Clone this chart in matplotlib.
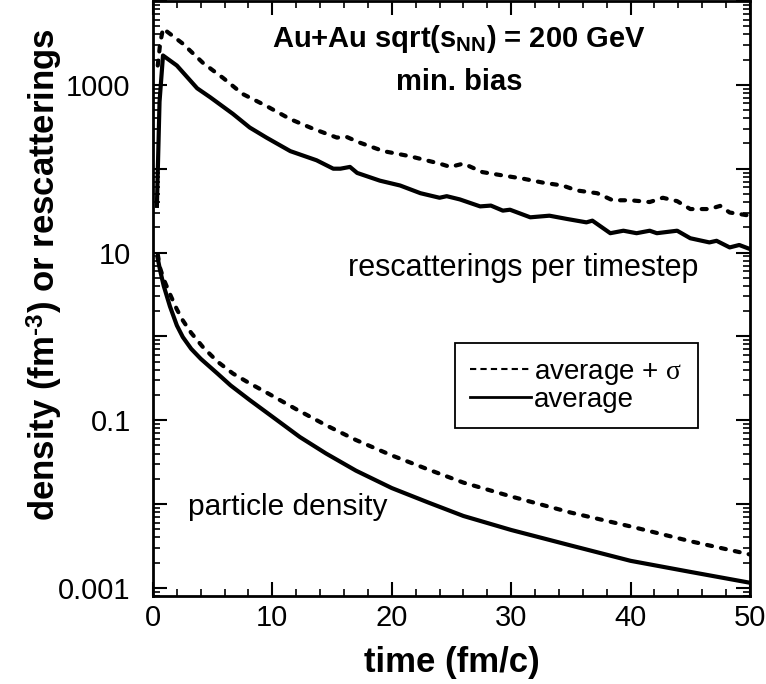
import matplotlib
matplotlib.use("Agg")
import matplotlib.pyplot as plt
from matplotlib.lines import Line2D
from matplotlib.ticker import FuncFormatter, LogLocator, MultipleLocator

plt.rcParams["font.family"] = ["Liberation Sans", "DejaVu Sans"]
plt.rcParams["mathtext.fontset"] = "custom"
plt.rcParams["mathtext.rm"] = "Liberation Serif"
plt.rcParams["mathtext.it"] = "Liberation Serif:italic"
plt.rcParams["mathtext.bf"] = "Liberation Sans:bold"
plt.rcParams["mathtext.sf"] = "Liberation Sans"

# rescatterings per timestep, average (solid)
resc_avg_t = [0.33, 0.55, 0.84, 2.0, 3.7, 4.8, 6.7, 8.1, 9.5, 11.5, 13.7, 15.1,
              15.7, 16.5, 17.1, 19.0, 20.7, 22.4, 24.0, 24.6, 25.7, 27.4, 28.3,
              29.3, 29.9, 31.6, 33.2, 34.7, 36.3, 36.8, 38.3, 39.4, 40.5, 41.6,
              42.2, 43.9, 45.0, 46.6, 47.2, 48.3, 49.1, 50.0]
resc_avg = [36, 630, 2240, 1700, 910, 710, 450, 310, 235, 162, 126, 100,
            100, 105, 89, 72, 63, 51, 45, 47, 43, 35.5, 36.3,
            31.6, 32.4, 26.3, 27.5, 25.1, 22.9, 24.0, 17.0, 18.2, 17.0, 18.2,
            17.0, 18.2, 14.8, 13.2, 13.8, 11.5, 12.3, 11.0]

# rescatterings per timestep, average + sigma (dashed)
resc_sig_t = [0.4, 0.6, 0.84, 2.5, 4.2, 5.9, 7.5, 9.5, 11.5, 13.4, 15.4, 16.2,
              17.3, 19.3, 21.5, 24.0, 24.9, 26.0, 27.6, 29.3, 31.0, 32.7, 34.3,
              35.5, 37.2, 38.5, 40.0, 41.6, 42.7, 43.9, 45.0, 46.6, 47.5, 48.3,
              50.0]
resc_sig = [1700, 3100, 4700, 3100, 1820, 1200, 780, 560, 390, 300, 235, 240,
            205, 162, 141, 115, 105, 115, 91, 83, 76, 68, 63,
            55, 51, 42, 42, 40, 45, 41, 33, 33, 36, 30,
            27.5]

# particle density, average (solid)
dens_avg_t = [0.4, 0.6, 0.9, 1.42, 2.0, 2.5, 3.2, 4.0, 5.4, 6.5, 8.1, 10.0,
              12.3, 14.5, 17.0, 20.0, 23.0, 26.0, 30.0, 35.0, 40.0, 45.0, 50.0]
dens_avg = [8.5, 6.1, 4.0, 2.28, 1.35, 0.98, 0.71, 0.54, 0.36, 0.26, 0.174,
            0.11, 0.063, 0.040, 0.025, 0.0155, 0.0105, 0.0072, 0.0049,
            0.0032, 0.0021, 0.00155, 0.00115]

# particle density, average + sigma (dashed)
dens_sig_t = [0.4, 0.6, 0.9, 1.42, 2.0, 2.5, 3.2, 4.2, 5.4, 6.7, 8.1, 9.5,
              12.0, 14.5, 17.0, 20.0, 23.0, 26.0, 30.0, 35.0, 40.0, 45.0, 50.0]
dens_sig = [9.5, 6.5, 4.8, 3.2, 2.1, 1.55, 1.1, 0.74, 0.50, 0.36, 0.275,
            0.214, 0.135, 0.087, 0.058, 0.038, 0.026, 0.018, 0.0123, 0.0079,
            0.0054, 0.0036, 0.0025]

y_labels = {1e-3: "0.001", 1e-1: "0.1", 1e1: "10", 1e3: "1000"}

fig = plt.figure(figsize=(7.66, 6.84), dpi=100)
ax = fig.add_axes([0.1997, 0.1287, 0.7794, 0.8698])

dash = (0, (1.2, 2.2))
ax.plot(resc_sig_t, resc_sig, color="k", lw=3, ls=dash, dash_capstyle="round")
ax.plot(resc_avg_t, resc_avg, color="k", lw=3, solid_joinstyle="round")
ax.plot(dens_sig_t, dens_sig, color="k", lw=3, ls=dash, dash_capstyle="round")
ax.plot(dens_avg_t, dens_avg, color="k", lw=3, solid_joinstyle="round")

ax.set_yscale("log")
ax.set_xlim(0, 50)
ax.set_ylim(8e-4, 1e4)

ax.xaxis.set_major_locator(MultipleLocator(10))
ax.xaxis.set_minor_locator(MultipleLocator(2))
ax.yaxis.set_major_locator(LogLocator(base=10, numticks=20))
ax.yaxis.set_minor_locator(LogLocator(base=10, subs=range(2, 10), numticks=20))
ax.yaxis.set_major_formatter(
    FuncFormatter(lambda v, pos: next((s for k, s in y_labels.items()
                                       if abs(v / k - 1) < 1e-6), "")))
ax.yaxis.set_minor_formatter(FuncFormatter(lambda v, pos: ""))

ax.tick_params(which="both", direction="in", top=True, right=True,
               labelsize=21)
ax.tick_params(which="major", length=10, width=1.5)
ax.tick_params(which="minor", length=5, width=1.2)
ax.tick_params(axis="x", pad=6)
ax.tick_params(axis="y", pad=16)
for sp in ax.spines.values():
    sp.set_linewidth(2)

ax.set_xlabel("time (fm/c)", fontsize=25, fontweight="bold")
ax.set_ylabel("density (fm$^{\\mathbf{\u2010 3}}$) or rescatterings",
              fontsize=25, fontweight="bold")
ax.xaxis.set_label_coords(0.5, -0.111)
ax.yaxis.set_label_coords(-0.181, 0.54)
ax.xaxis.label.set_va("center")
ax.yaxis.label.set_va("center")

ax.text(0.513, 0.936, "Au+Au sqrt(s$_{\\mathbf{NN}}$) = 200 GeV",
        transform=ax.transAxes, ha="center", va="center",
        fontsize=21, fontweight="bold")
ax.text(0.513, 0.864, "min. bias", transform=ax.transAxes,
        ha="center", va="center", fontsize=21, fontweight="bold")
ax.text(31.0, 6.5, "rescatterings per timestep", ha="center", va="center",
        fontsize=22)
ax.text(11.3, 0.0092, "particle density", ha="center", va="center",
        fontsize=21.5)

handles = [
    Line2D([], [], color="k", lw=1.5, ls=(0, (3, 2))),
    Line2D([], [], color="k", lw=2),
]
leg = ax.legend(handles, ["average + $\\mathrm{\\sigma}$", "average"],
                loc="upper left", bbox_to_anchor=(0.506, 0.4245),
                fontsize=20, frameon=True, fancybox=False, framealpha=1,
                edgecolor="k", handlelength=2.2, handletextpad=0.1,
                labelspacing=0.0, borderpad=0.55, borderaxespad=0)
leg.get_frame().set_linewidth(1.3)

fig.savefig("out.png", dpi=100)
